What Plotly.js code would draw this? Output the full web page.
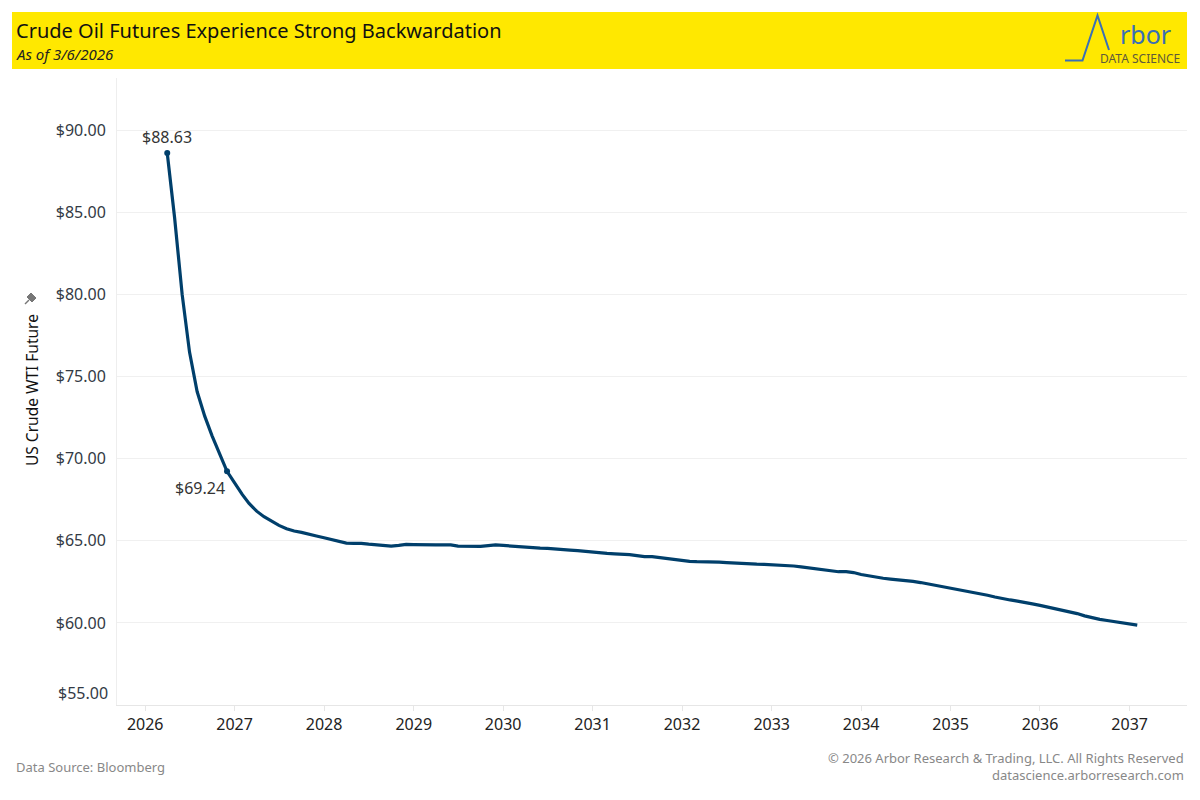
<!DOCTYPE html>
<html>
<head>
<meta charset="utf-8">
<script src="https://cdn.plot.ly/plotly-3.0.1.min.js"></script>
<style>
  html, body { margin: 0; padding: 0; background: #ffffff; }
  #chart { width: 1200px; height: 800px; }
</style>
</head>
<body>
<div id="chart"></div>
<script>
// Monthly WTI futures settlement curve (contract month -> price), as of 3/6/2026
const firstContract = { year: 2026, month: 4 }; // April 2026 contract
const prices2026 = [88.63, 84.70, 80.00, 76.50, 74.10, 72.60, 71.40, 70.30, 69.24]; // Apr..Dec
const prices2027 = [68.54, 67.83, 67.28, 66.81, 66.47, 66.20, 65.94, 65.74, 65.60, 65.52, 65.43, 65.30];
const prices2028 = [65.19, 65.07, 64.96, 64.86, 64.85, 64.85, 64.80, 64.75, 64.71, 64.68, 64.72, 64.78];
const prices2029 = [64.77, 64.75, 64.75, 64.75, 64.75, 64.75, 64.68, 64.67, 64.67, 64.67, 64.71, 64.75];
const prices2030 = [64.72, 64.68, 64.65, 64.61, 64.58, 64.56, 64.54, 64.52, 64.48, 64.44, 64.40, 64.35];
const prices2031 = [64.30, 64.27, 64.24, 64.21, 64.19, 64.16, 64.10, 64.04, 64.04, 63.98, 63.92, 63.85];
const prices2032 = [63.80, 63.75, 63.73, 63.73, 63.73, 63.70, 63.67, 63.64, 63.62, 63.59, 63.58, 63.57];
const prices2033 = [63.55, 63.53, 63.51, 63.47, 63.42, 63.36, 63.29, 63.22, 63.16, 63.12, 63.12, 63.07];
const prices2034 = [62.95, 62.86, 62.77, 62.72, 62.67, 62.63, 62.59, 62.53, 62.46, 62.38, 62.30, 62.22];
const prices2035 = [62.13, 62.04, 61.96, 61.88, 61.80, 61.69, 61.58, 61.47, 61.40, 61.33, 61.26, 61.16];
const prices2036 = [61.07, 60.97, 60.88, 60.80, 60.70, 60.57, 60.43, 60.30, 60.22, 60.15, 60.09, 60.03];
const prices2037 = [59.95, 59.87]; // Jan..Feb

const labelledPoints = [
  { date: '2026-04-01', value: 88.63, text: '$88.63' },
  { date: '2026-12-01', value: 69.24, text: '$69.24' }
];

const yTickValues = [55, 60, 65, 70, 75, 80, 85, 90];
const yTickLabels = ['$55.00', '$60.00', '$65.00', '$70.00', '$75.00', '$80.00', '$85.00', '$90.00'];

const titleText = 'Crude Oil Futures Experience Strong Backwardation';
const subtitleText = 'As of 3/6/2026';
const yAxisTitle = 'US Crude WTI Future';
const sourceText = 'Data Source: Bloomberg';
const copyrightText = '© 2026 Arbor Research & Trading, LLC. All Rights Reserved';
const siteText = 'datascience.arborresearch.com';

// build series
const yearBlocks = [
  [2026, prices2026], [2027, prices2027], [2028, prices2028], [2029, prices2029],
  [2030, prices2030], [2031, prices2031], [2032, prices2032], [2033, prices2033],
  [2034, prices2034], [2035, prices2035], [2036, prices2036], [2037, prices2037]
];
const xs = [], ys = [];
yearBlocks.forEach(([yr, arr]) => {
  const startM = (yr === firstContract.year) ? firstContract.month : 1;
  arr.forEach((v, i) => {
    const m = startM + i;
    xs.push(yr + '-' + String(m).padStart(2, '0') + '-01');
    ys.push(v);
  });
});

const FONT = 'Noto Sans, Open Sans, sans-serif';
const lineColor = '#003f6b';

const traces = [
  {
    x: xs, y: ys, type: 'scatter', mode: 'lines',
    line: { color: lineColor, width: 3.2 },
    hoverinfo: 'skip', showlegend: false
  },
  {
    x: labelledPoints.map(p => p.date), y: labelledPoints.map(p => p.value),
    type: 'scatter', mode: 'markers',
    marker: { color: lineColor, size: 6 },
    hoverinfo: 'skip', showlegend: false
  }
];

// pixel helpers for paper coords (plot area: l=117, r=1187, t=78, b=705)
const L = 117, R = 1187, T = 78, B = 705;
const px = x => (x - L) / (R - L);
const py = y => (B - y) / (B - T);

const annotations = [
  { xref: 'x', yref: 'y', x: labelledPoints[0].date, y: labelledPoints[0].value, text: labelledPoints[0].text,
    showarrow: false, yshift: 16, font: { family: FONT, size: 16, color: '#333333' } },
  { xref: 'x', yref: 'y', x: labelledPoints[1].date, y: labelledPoints[1].value, text: labelledPoints[1].text,
    showarrow: false, xshift: -27, yshift: -17, font: { family: FONT, size: 16, color: '#333333' } },
  { xref: 'paper', yref: 'paper', x: px(14), y: py(30), xanchor: 'left', yanchor: 'middle', text: titleText,
    showarrow: false, font: { family: FONT, size: 20, color: '#111111' } },
  { xref: 'paper', yref: 'paper', x: px(14), y: py(54), xanchor: 'left', yanchor: 'middle', text: '<i>' + subtitleText + '</i>',
    showarrow: false, font: { family: FONT, size: 15, color: '#222222' } },
  { xref: 'paper', yref: 'paper', x: px(1145), y: py(34), xanchor: 'center', yanchor: 'middle', text: 'rbor',
    showarrow: false, font: { family: FONT, size: 25, color: '#3a6fb5' } },
  { xref: 'paper', yref: 'paper', x: px(1140), y: py(58.5), xanchor: 'center', yanchor: 'middle', text: 'DATA SCIENCE',
    showarrow: false, font: { family: FONT, size: 12, color: '#5f5a3a' } },
  { xref: 'paper', yref: 'paper', x: px(32), y: py(390), xanchor: 'center', yanchor: 'middle', text: yAxisTitle,
    textangle: -90, showarrow: false, font: { family: FONT, size: 15.5, color: '#111111' } },
  { xref: 'paper', yref: 'paper', x: px(110), y: py(693), xanchor: 'right', yanchor: 'middle', text: yTickLabels[0],
    showarrow: false, font: { family: FONT, size: 16, color: '#333a45' } },
  { xref: 'paper', yref: 'paper', x: px(14), y: py(767), xanchor: 'left', yanchor: 'middle', text: sourceText,
    showarrow: false, font: { family: FONT, size: 13, color: '#888888' } },
  { xref: 'paper', yref: 'paper', x: px(1186), y: py(758), xanchor: 'right', yanchor: 'middle', text: copyrightText,
    showarrow: false, font: { family: FONT, size: 13, color: '#888888' } },
  { xref: 'paper', yref: 'paper', x: px(1186), y: py(775), xanchor: 'right', yanchor: 'middle', text: siteText,
    showarrow: false, font: { family: FONT, size: 13, color: '#888888' } }
];

const logoPath = 'M ' + px(1065) + ' ' + py(60.5) + ' L ' + px(1082.5) + ' ' + py(60.5) +
  ' L ' + px(1097.5) + ' ' + py(15.5) + ' L ' + px(1109) + ' ' + py(50);
// small pushpin icon above the axis title
const pinHead = 'M ' + px(27) + ' ' + py(297) + ' L ' + px(31) + ' ' + py(293) + ' L ' + px(36) + ' ' + py(298) +
  ' L ' + px(32) + ' ' + py(302) + ' Z';
const pinNeedle = 'M ' + px(29) + ' ' + py(300) + ' L ' + px(25) + ' ' + py(304);

const shapes = [
  { type: 'rect', xref: 'paper', yref: 'paper', x0: px(12), x1: px(1187), y0: py(69), y1: py(12),
    fillcolor: '#ffe800', line: { width: 0 }, layer: 'below' },
  { type: 'path', xref: 'paper', yref: 'paper', path: logoPath, line: { color: '#3a6fb5', width: 2 } },
  { type: 'path', xref: 'paper', yref: 'paper', path: pinHead, fillcolor: '#777777', line: { color: '#777777', width: 1 } },
  { type: 'path', xref: 'paper', yref: 'paper', path: pinNeedle, line: { color: '#777777', width: 1.5 } }
];

const layout = {
  width: 1200, height: 800,
  margin: { l: L, r: 1200 - R, t: T, b: 800 - B, pad: 0 },
  paper_bgcolor: '#ffffff', plot_bgcolor: '#ffffff',
  font: { family: FONT, color: '#333333' },
  showlegend: false,
  xaxis: {
    type: 'date', range: ['2025-09-08', '2037-08-23'],
    tick0: '2026-01-01', dtick: 'M12', tickformat: '%Y',
    ticks: 'outside', ticklen: 5, tickcolor: '#e6e6e6',
    showgrid: false, zeroline: false,
    showline: true, linecolor: '#e6e6e6', linewidth: 1,
    tickfont: { family: FONT, size: 16, color: '#222222' },
    fixedrange: true
  },
  yaxis: {
    range: [55, 93.2],
    tickvals: yTickValues.slice(1), ticktext: yTickLabels.slice(1),
    showgrid: true, gridcolor: '#f0f0f0', gridwidth: 1,
    zeroline: false, showline: true, linecolor: '#eeeeee', linewidth: 1,
    ticks: '', ticklabelstandoff: 7,
    tickfont: { family: FONT, size: 16, color: '#333a45' },
    fixedrange: true
  },
  annotations: annotations,
  shapes: shapes
};

Plotly.newPlot('chart', traces, layout, { displayModeBar: false, staticPlot: true });
</script>
</body>
</html>
